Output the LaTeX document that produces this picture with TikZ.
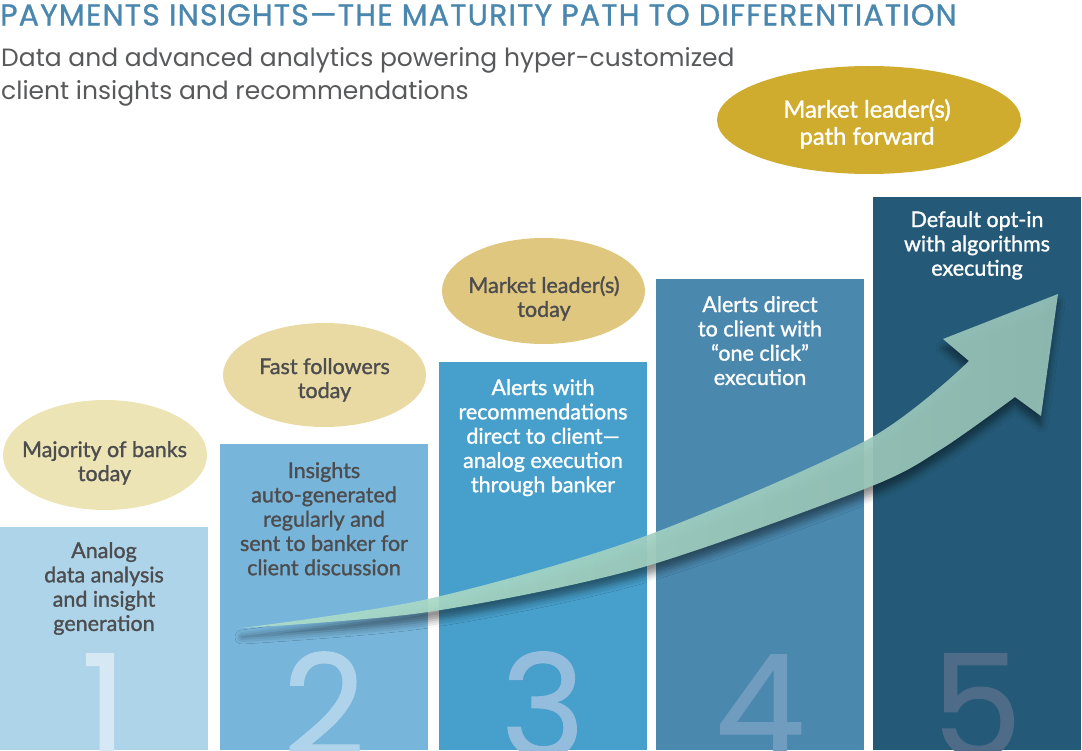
\documentclass[tikz,border=0pt]{standalone}
\usepackage{fontspec}
\setmainfont{Lato}
\newfontfamily\medfont[FakeBold=1.3]{Lato}
\newfontfamily\popfont{Poppins}
\newfontfamily\popmed[FakeBold=0.8]{Poppins}
\newfontfamily\titlefont[FakeBold=1.0,LetterSpace=4]{Poppins}
\usetikzlibrary{shapes.geometric,shadows.blur}
\definecolor{titleblue}{HTML}{4A87AE}
\definecolor{subgray}{HTML}{58595B}
\definecolor{darktext}{HTML}{4D4D4F}
\definecolor{barA}{HTML}{AED4EA}
\definecolor{barB}{HTML}{78B5DA}
\definecolor{barC}{HTML}{479FCB}
\definecolor{barD}{HTML}{4A88AE}
\definecolor{barE}{HTML}{245A77}
\definecolor{digA}{HTML}{D6E8F4}
\definecolor{digB}{HTML}{AED3EA}
\definecolor{digC}{HTML}{93BCDD}
\definecolor{digD}{HTML}{6F9CBF}
\definecolor{digE}{HTML}{4E6B88}
\definecolor{ellA}{HTML}{EDE4B6}
\definecolor{ellB}{HTML}{E9DAA4}
\definecolor{ellC}{HTML}{E0C77F}
\definecolor{ellD}{HTML}{CFAC2E}
\definecolor{arrowA}{HTML}{ADDFCA}
\definecolor{arrowB}{HTML}{96C2B8}
\tikzset{
  bar/.style={rectangle, draw=none, inner sep=0pt, minimum width=208pt, anchor=south west},
  digit/.style={anchor=base, inner sep=0pt, font=\popmed\fontsize{143}{143}\selectfont},
  bartext/.style={anchor=north, inner sep=0pt, align=center, font=\medfont\fontsize{21.5}{24.3}\selectfont},
  ell/.style={ellipse, draw=none, inner sep=0pt},
  elltext/.style={anchor=north, inner sep=0pt, align=center, font=\medfont\fontsize{21.5}{24}\selectfont, text=darktext},
}
\begin{document}
\begin{tikzpicture}[x=1pt,y=-1pt]
\useasboundingbox (0,0) rectangle (1082,751);
% title
\node[anchor=north west, inner sep=0pt, text=titleblue, font=\titlefont\fontsize{30}{32}\selectfont] (title) at (0,4) {PAYMENTS INSIGHTS—THE MATURITY PATH TO DIFFERENTIATION};
\node[anchor=north west, inner sep=0pt, align=left, text=subgray, font=\popfont\fontsize{25}{33}\selectfont] (sub) at (1,47) {Data and advanced analytics powering hyper-customized\\client insights and recommendations};
% bars
\node[bar, fill=barA, minimum height=223pt] (b1) at (0,750) {};
\node[bar, fill=barB, minimum height=306pt] (b2) at (220,750) {};
\node[bar, fill=barC, minimum height=388pt] (b3) at (439,750) {};
\node[bar, fill=barD, minimum height=471pt] (b4) at (656,750) {};
\node[bar, fill=barE, minimum height=553pt] (b5) at (873,750) {};
% digits
\begin{scope}\clip (b1.south west) rectangle (b1.north east);
\node[digit, text=digA] (n1) at (104,757) {1};\end{scope}
\begin{scope}\clip (b2.south west) rectangle (b2.north east);
\node[digit, text=digB] (n2) at (324,757) {2};\end{scope}
\begin{scope}\clip (b3.south west) rectangle (b3.north east);
\node[digit, text=digC] (n3) at (543,757) {3};\end{scope}
\begin{scope}\clip (b4.south west) rectangle (b4.north east);
\node[digit, text=digD] (n4) at (760,757) {4};\end{scope}
\begin{scope}\clip (b5.south west) rectangle (b5.north east);
\node[digit, text=digE] (n5) at (977,757) {5};\end{scope}
% arrow
\path[fill opacity=0.92, left color=arrowA, right color=arrowB,
  blur shadow={shadow xshift=0pt, shadow yshift=-9pt, shadow blur radius=7pt, shadow opacity=45}]
  plot[smooth, tension=0.5] coordinates {(242,628) (428,599) (640,538) (867,440) (969,361)}
  -- (943,339) -- (1058,294) -- (1041,416) -- (1015,397)
  -- plot[smooth, tension=0.5] coordinates {(1015,397) (940,450) (867,488) (640,568) (428,612) (242,628)}
  -- cycle;
% bar texts
\node[bartext, text=darktext] (t1) at (104,542) {Analog\\data analysis\\and insight\\generation};
\node[bartext, text=darktext] (t2) at (324,462) {Insights\\auto-generated\\regularly and\\sent to banker for\\client discussion};
\node[bartext, text=white] (t3) at (543,379) {Alerts with\\recommendations\\direct to client—\\analog execution\\through banker};
\node[bartext, text=white] (t4) at (760,296) {Alerts direct\\to client with\\“one click”\\execution};
\node[bartext, text=white] (t5) at (977,211) {Default opt-in\\with algorithms\\executing};
% ellipses
\node[ell, fill=ellA, minimum width=204pt, minimum height=110pt] (e1) at (105,455) {};
\node[ell, fill=ellB, minimum width=203pt, minimum height=104pt] (e2) at (324.5,375) {};
\node[ell, fill=ellC, minimum width=203pt, minimum height=106pt] (e3) at (543.5,291) {};
\node[ell, fill=ellD, minimum width=304pt, minimum height=108pt] (e4) at (869,120) {};
\node[elltext] (l1) at (104.5,441) {Majority of banks\\today};
\node[elltext] (l2) at (324.5,358) {Fast followers\\today};
\node[elltext] (l3) at (544,276) {Market leader(s)\\today};
\node[elltext, text=white, font=\medfont\fontsize{23.8}{27}\selectfont] (l4) at (867,99) {Market leader(s)\\path forward};
\end{tikzpicture}
\end{document}
